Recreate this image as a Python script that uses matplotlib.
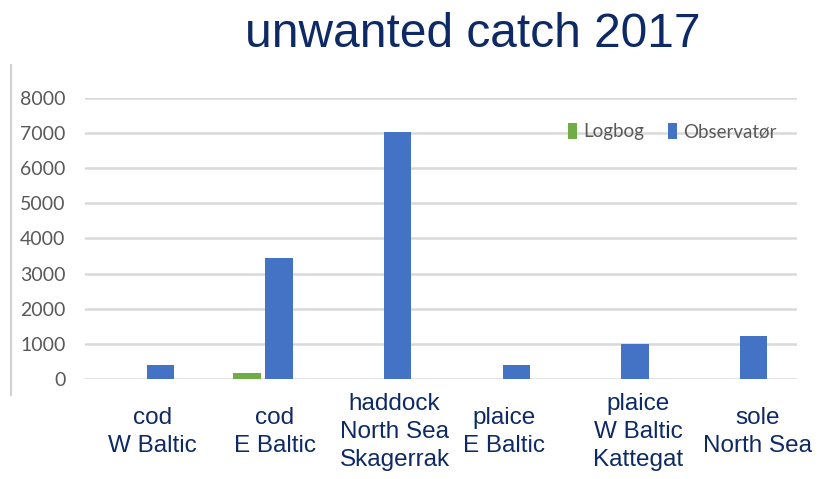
import matplotlib.pyplot as plt
import matplotlib.transforms as mtransforms
import numpy as np

# data
kategorier = ['cod\nW Baltic', 'cod\nE Baltic', 'haddock\nNorth Sea\nSkagerrak',
              'plaice\nE Baltic', 'plaice\nW Baltic\nKattegat', 'sole\nNorth Sea']
logbog = [0, 180, 0, 0, 0, 0]
observator = [400, 3450, 7030, 400, 1010, 1220]
yticks = [0, 1000, 2000, 3000, 4000, 5000, 6000, 7000, 8000]

grøn = '#70AD47'
blå = '#4472C4'
navy = '#0E2A66'
grå = '#595959'
smal = ['Lato', 'DejaVu Sans']

fig = plt.figure(figsize=(8.19, 4.79), dpi=100)
ax = fig.add_axes([0.1038, 0.2088, 0.8692, 0.5866])

x = np.arange(len(kategorier))
b = 0.23
ax.bar(x - 0.135, logbog, width=b, color=grøn, label='Logbog', zorder=3)
ax.bar(x + 0.135, observator, width=b, color=blå, label='Observatør', zorder=3)

ax.set_xlim(-0.5, len(kategorier) - 0.5)
ax.set_ylim(0, 8000)
ax.set_yticks(yticks)
ax.set_yticklabels([str(v) for v in yticks], fontsize=14, color=grå, family=smal)
ax.tick_params(axis='y', length=0, pad=14)
ax.tick_params(axis='x', length=0, labelbottom=False)
ax.grid(axis='y', color='#D9D9D9', linewidth=1.8, zorder=0)
for s in ax.spines.values():
    s.set_visible(False)

# kategori-tekster, centreret lodret som i originalen
trans = mtransforms.blended_transform_factory(ax.transData, ax.transAxes)
forskyd = [0.07, 0.1, 0.11, 0.03, 0.16, 0.17]
for i, k in enumerate(kategorier):
    ax.text(i + forskyd[i], -0.19, k, transform=trans, ha='center', va='center',
            fontsize=17.5, color=navy, family=['Liberation Sans', 'DejaVu Sans'],
            linespacing=1.35)

leg = ax.legend(loc='center right', bbox_to_anchor=(0.995, 0.88), ncol=2, frameon=False,
                handlelength=0.5, handleheight=0.9, columnspacing=1.3,
                handletextpad=0.3, prop={'family': smal, 'size': 13.5})
for t in leg.get_texts():
    t.set_color(grå)

fig.text(0.577, 1 - 47 / 479, 'unwanted catch 2017', ha='center', va='baseline', fontsize=34.5,
         color=navy, family=['Liberation Sans', 'DejaVu Sans'])

# lodret grå linje til venstre
fig.add_artist(plt.Line2D([0.0134, 0.0134], [1 - 395 / 479, 1 - 65 / 479],
                          color='#D0D0D0', linewidth=1.5))

fig.savefig('out.png', dpi=100)
